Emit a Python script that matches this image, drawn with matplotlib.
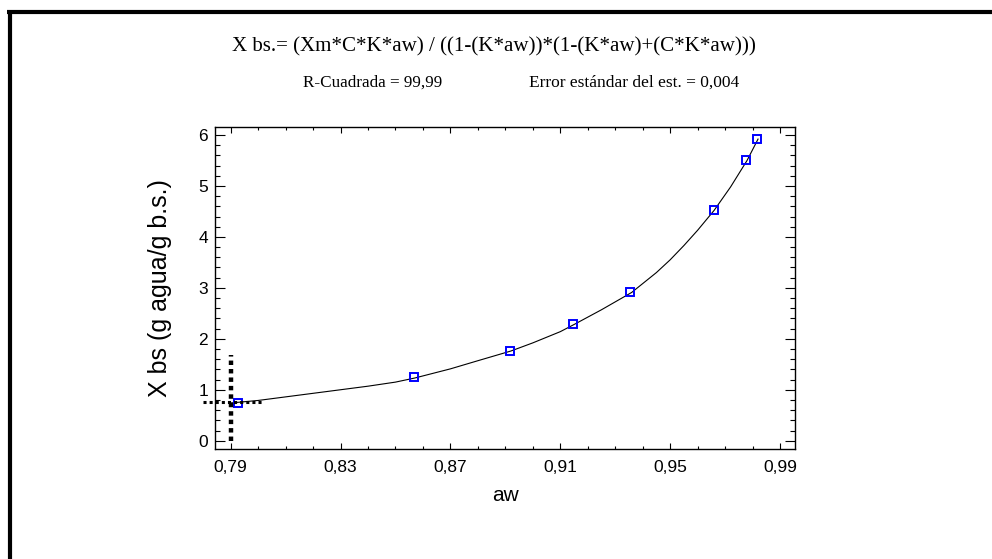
import matplotlib
matplotlib.use("Agg")
import matplotlib.pyplot as plt
from matplotlib.lines import Line2D
from matplotlib.ticker import MultipleLocator, FuncFormatter

aw_obs = [0.7927, 0.8568, 0.8918, 0.9148, 0.9355, 0.9658, 0.9778, 0.9818]
xbs_obs = [0.74, 1.25, 1.76, 2.29, 2.92, 4.53, 5.50, 5.92]

# Fitted curve
aw_fit = [0.790, 0.800, 0.810, 0.820, 0.830, 0.840, 0.850, 0.857, 0.870, 0.880,
          0.892, 0.900, 0.910, 0.915, 0.925, 0.936, 0.945, 0.950, 0.955, 0.960,
          0.966, 0.972, 0.978, 0.982]
xbs_fit = [0.74, 0.79, 0.86, 0.93, 1.00, 1.07, 1.15, 1.23, 1.41, 1.57,
           1.76, 1.92, 2.14, 2.28, 2.57, 2.91, 3.30, 3.55, 3.83, 4.13,
           4.52, 4.98, 5.50, 5.92]

# Reference (dotted) lines
v_x = [0.79, 0.79]
v_y = [0.0, 1.68]
h_x = [0.780, 0.8018]
h_y = [0.766, 0.766]

xticks = [0.79, 0.83, 0.87, 0.91, 0.95, 0.99]
yticks = [0, 1, 2, 3, 4, 5, 6]

title = "X bs.= (Xm*C*K*aw) / ((1-(K*aw))*(1-(K*aw)+(C*K*aw)))"
sub1 = "R-Cuadrada = 99,99"
sub2 = "Error estándar del est. = 0,004"

W, H = 992, 559
fig = plt.figure(figsize=(W / 100, H / 100), dpi=100)
fig.patch.set_facecolor("white")

ax = fig.add_axes([215 / W, 1 - 449 / H, (795 - 215) / W, (449 - 126.7) / H])
ax.set_xlim(0.78428, 0.99546)
ax.set_ylim(-0.163, 6.163)

ax.plot(aw_fit, xbs_fit, color="black", lw=0.8, zorder=2)
ax.plot(aw_obs, xbs_obs, linestyle="none", marker="s", markersize=5.5,
        markerfacecolor="none", markeredgecolor="#0000ff", markeredgewidth=1.4, zorder=3)
ax.plot(v_x, v_y, color="black", lw=3.2, linestyle=(0, (1, 0.9)), dash_capstyle="butt",
        clip_on=False, zorder=4)
ax.plot(h_x, h_y, color="black", lw=2.2, linestyle=(0, (1, 1)), dash_capstyle="butt",
        clip_on=False, zorder=4)

ax.set_xticks(xticks)
ax.set_yticks(yticks)
ax.xaxis.set_minor_locator(MultipleLocator(0.01))
ax.yaxis.set_minor_locator(MultipleLocator(0.2))
ax.xaxis.set_major_formatter(FuncFormatter(lambda v, p: f"{v:.2f}".replace(".", ",")))
ax.yaxis.set_major_formatter(FuncFormatter(lambda v, p: f"{int(round(v))}"))

ax.tick_params(axis="both", which="both", direction="in", top=True, right=True,
               width=0.8, colors="black", labelsize=12.5)
ax.tick_params(axis="y", which="major", length=7.2, pad=5)
ax.tick_params(axis="y", which="minor", length=3.6)
ax.tick_params(axis="x", which="major", length=4.3, pad=8)
ax.tick_params(axis="x", which="minor", length=2.5)
for lab in ax.get_xticklabels() + ax.get_yticklabels():
    lab.set_fontfamily("Liberation Sans")
for s in ax.spines.values():
    s.set_linewidth(1.0)

ax.set_xlabel("aw", fontsize=15, fontfamily="Liberation Sans", labelpad=8)
ax.set_ylabel("X bs (g agua/g b.s.)", fontsize=18, fontfamily="Liberation Sans", labelpad=19)

fig.text(494 / W, 1 - 47 / H, title, ha="center", va="center",
         fontsize=15.1, fontfamily="Liberation Serif")
fig.text(372.5 / W, 1 - 83 / H, sub1, ha="center", va="center",
         fontsize=12.3, fontfamily="Liberation Serif")
fig.text(634 / W, 1 - 83 / H, sub2, ha="center", va="center",
         fontsize=12.5, fontfamily="Liberation Serif")

# outer frame (top and left thick lines)
fig.add_artist(Line2D([7 / W, 1.0], [1 - 12 / H, 1 - 12 / H], transform=fig.transFigure,
                      color="black", lw=3, solid_capstyle="butt"))
fig.add_artist(Line2D([9.5 / W, 9.5 / W], [1 - 10 / H, 0.0], transform=fig.transFigure,
                      color="black", lw=3, solid_capstyle="butt"))

fig.savefig("out.png", dpi=100)
